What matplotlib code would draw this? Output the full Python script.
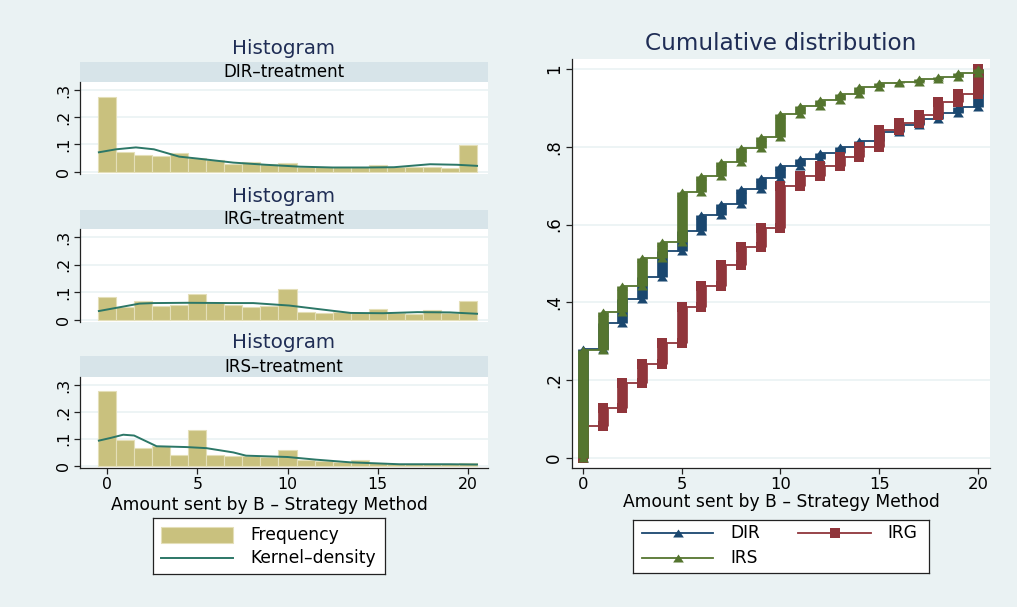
import numpy as np
import matplotlib
matplotlib.use("Agg")
import matplotlib.pyplot as plt
from matplotlib.patches import Rectangle
from matplotlib.path import Path

# ---------------- data ----------------
amounts = np.arange(21)

hist_dir = [0.276, 0.071, 0.061, 0.058, 0.067, 0.050, 0.043, 0.028, 0.037, 0.027, 0.031,
            0.018, 0.018, 0.015, 0.015, 0.025, 0.018, 0.018, 0.018, 0.013, 0.098]
hist_irg = [0.082, 0.045, 0.066, 0.049, 0.054, 0.092, 0.061, 0.054, 0.045, 0.049, 0.110,
            0.029, 0.023, 0.026, 0.023, 0.038, 0.023, 0.020, 0.033, 0.023, 0.066]
hist_irs = [0.278, 0.096, 0.065, 0.074, 0.038, 0.131, 0.041, 0.035, 0.035, 0.032, 0.057,
            0.019, 0.016, 0.012, 0.019, 0.010, 0.006, 0.006, 0.005, 0.005, 0.010]

kd_dir_x = [-0.45, 0.5, 1.6, 2.6, 4.0, 5.0, 7.0, 8.8, 10.7, 12.5, 14.4, 15.9, 17.9, 19.4, 20.5]
kd_dir_y = [0.071, 0.082, 0.089, 0.082, 0.055, 0.048, 0.033, 0.025, 0.018, 0.015, 0.015, 0.016,
            0.027, 0.025, 0.021]
kd_irg_x = [-0.45, 1.8, 2.6, 4.4, 7.0, 8.1, 10.1, 11.6, 13.5, 15.3, 17.2, 19.0, 20.5]
kd_irg_y = [0.031, 0.058, 0.060, 0.061, 0.060, 0.060, 0.051, 0.039, 0.024, 0.023, 0.027, 0.026, 0.021]
kd_irs_x = [-0.45, 0.2, 0.9, 1.5, 2.75, 4.4, 5.5, 7.0, 7.7, 10.0, 11.6, 13.5, 16.2, 19.0, 20.5]
kd_irs_y = [0.093, 0.103, 0.115, 0.112, 0.072, 0.069, 0.065, 0.049, 0.037, 0.032, 0.022, 0.012,
            0.005, 0.005, 0.004]

cdf_dir = [0.280, 0.348, 0.409, 0.466, 0.533, 0.584, 0.625, 0.653, 0.692, 0.721, 0.751,
           0.769, 0.785, 0.800, 0.816, 0.839, 0.856, 0.872, 0.888, 0.902, 1.0]
cdf_irg = [0.083, 0.128, 0.192, 0.242, 0.296, 0.387, 0.443, 0.496, 0.542, 0.590, 0.699,
           0.726, 0.750, 0.774, 0.800, 0.843, 0.862, 0.882, 0.914, 0.935, 1.0]
cdf_irs = [0.278, 0.376, 0.442, 0.515, 0.556, 0.685, 0.726, 0.762, 0.796, 0.826, 0.884,
           0.905, 0.920, 0.935, 0.953, 0.963, 0.967, 0.974, 0.980, 0.989, 1.0]

panel_titles = ["DIR–treatment", "IRG–treatment", "IRS–treatment"]
series_names = ["DIR", "IRG", "IRS"]
xlabel = "Amount sent by B – Strategy Method"

# ---------------- style ----------------
BG = "#EAF2F3"
STRIP = "#D7E4E9"
TITLE_C = "#1F2D55"
BAR_C = "#C9C17E"
KD_C = "#2C7767"
COLS = {"DIR": "#1A476F", "IRG": "#90353B", "IRS": "#55752F"}
plt.rcParams["font.family"] = ["DejaVu Sans"]

W, H = 1017, 607
fig = plt.figure(figsize=(W / 100, H / 100), dpi=100, facecolor=BG)


def px_axes(l, t, r, b, **kw):
    return fig.add_axes([l / W, 1 - b / H, (r - l) / W, (b - t) / H], **kw)


def ftext(x, y, s, **kw):
    fig.text(x / W, 1 - y / H, s, **kw)


def style_axis(ax, bottom=True):
    for sp in ["top", "right"]:
        ax.spines[sp].set_visible(False)
    ax.spines["left"].set_color("#222222")
    ax.spines["left"].set_linewidth(0.9)
    if bottom:
        ax.spines["bottom"].set_color("#222222")
        ax.spines["bottom"].set_linewidth(0.9)
    else:
        ax.spines["bottom"].set_visible(False)
        ax.tick_params(axis="x", bottom=False, labelbottom=False)
    ax.tick_params(axis="both", direction="out", length=4.5, width=0.9, color="#222222", pad=2)
    ax.yaxis.grid(True, color=BG, lw=1.2)
    ax.set_axisbelow(True)


def ylabels_fmt(vals):
    out = []
    for v in vals:
        if v == 0:
            out.append("0")
        elif v == 1:
            out.append("1")
        else:
            out.append(("%g" % v).lstrip("0"))
    return out


# ---------------- left: histograms ----------------
hists = [hist_dir, hist_irg, hist_irs]
kdx = [kd_dir_x, kd_irg_x, kd_irs_x]
kdy = [kd_dir_y, kd_irg_y, kd_irs_y]
panel_px = [(62, 82, 174, 48), (210, 229, 322, 197), (356, 377, 468, 343)]
yt = [0, 0.1, 0.2, 0.3]
for i in range(3):
    st, pt, pb, ty = panel_px[i]
    ftext(284, ty, "Histogram", ha="center", va="center", fontsize=14.3, color=TITLE_C)
    sax = px_axes(80, st, 488, pt)
    sax.set_facecolor(STRIP)
    sax.set_xticks([]); sax.set_yticks([])
    for sp in sax.spines.values():
        sp.set_visible(False)
    sax.text(0.5, 0.5, panel_titles[i], ha="center", va="center", fontsize=12,
             transform=sax.transAxes)
    ax = px_axes(80, pt, 488, pb)
    ax.set_facecolor("white")
    style_axis(ax, bottom=(i == 2))
    ax.bar(amounts, hists[i], width=1.0, color=BAR_C, edgecolor="#E4DFB8", linewidth=0.8, zorder=2)
    ax.plot(kdx[i], kdy[i], color=KD_C, lw=1.4, zorder=3)
    ax.set_xlim(-1.496, 21.108)
    ax.set_ylim(-0.009, 0.33)
    ax.set_yticks(yt)
    ax.set_yticklabels(ylabels_fmt(yt), rotation=90, va="center", fontsize=11.5)
    if i == 2:
        ax.set_xticks([0, 5, 10, 15, 20])
        ax.set_xticklabels(["0", "5", "10", "15", "20"], fontsize=11.3)

ftext(269, 505, xlabel, ha="center", va="center", fontsize=12.3)

# left legend
lax = px_axes(153, 518, 385, 574)
lax.set_xlim(153, 385); lax.set_ylim(574, 518)
lax.set_facecolor("white")
lax.set_xticks([]); lax.set_yticks([])
for sp in lax.spines.values():
    sp.set_color("#222222"); sp.set_linewidth(0.9)
lax.add_patch(Rectangle((161, 527), 72, 16, facecolor=BAR_C, edgecolor="#E4DFB8", lw=0.8))
lax.plot([161, 233], [558, 558], color=KD_C, lw=1.4)
lax.text(250, 535, "Frequency", va="center", ha="left", fontsize=12.3)
lax.text(250, 558, "Kernel–density", va="center", ha="left", fontsize=12.3)

# ---------------- right: cumulative distribution ----------------
tri = Path([(-1, -0.75), (1, -0.75), (0, 0.75), (-1, -0.75)],
           [Path.MOVETO, Path.LINETO, Path.LINETO, Path.CLOSEPOLY])
MS = 7.7
markers = {"DIR": tri, "IRG": "s", "IRS": tri}

ftext(781, 43, "Cumulative distribution", ha="center", va="center", fontsize=16.7, color=TITLE_C)
cax = px_axes(572, 59, 990, 468)
cax.set_facecolor("white")
style_axis(cax, bottom=True)
cax.set_xlim(-0.557, 20.608)
cax.set_ylim(-0.0257, 1.0257)
yt2 = [0, 0.2, 0.4, 0.6, 0.8, 1.0]
cax.set_yticks(yt2)
cax.set_yticklabels(ylabels_fmt(yt2), rotation=90, va="center", fontsize=12)
cax.set_xticks([0, 5, 10, 15, 20])
cax.set_xticklabels(["0", "5", "10", "15", "20"], fontsize=11.8)

for z, (name, F) in enumerate(zip(series_names, [cdf_dir, cdf_irg, cdf_irs])):
    F = np.asarray(F)
    lo = np.concatenate([[0.0], F[:-1]])
    c = COLS[name]
    zo = 3 + z
    cax.hlines(F[:-1], amounts[:-1], amounts[1:], color=c, lw=1.3, zorder=zo)
    cax.vlines(amounts, lo, F, color=c, lw=MS, capstyle="butt", zorder=zo)
    cax.plot(amounts, F, ls="none", marker=markers[name], ms=MS, mew=0, color=c, zorder=zo)
    cax.plot(amounts, lo, ls="none", marker=markers[name], ms=MS, mew=0, color=c, zorder=zo)

ftext(781, 502, xlabel, ha="center", va="center", fontsize=12.3)

# right legend
rax = px_axes(633, 520, 929, 573)
rax.set_xlim(633, 929); rax.set_ylim(573, 520)
rax.set_facecolor("white")
rax.set_xticks([]); rax.set_yticks([])
for sp in rax.spines.values():
    sp.set_color("#222222"); sp.set_linewidth(0.9)
leg_pos = {"DIR": (642, 713, 533, 730), "IRG": (798, 871, 533, 887), "IRS": (642, 713, 558, 730)}
for name in series_names:
    x0, x1, y, tx = leg_pos[name]
    c = COLS[name]
    rax.plot([x0, x1], [y, y], color=c, lw=1.3)
    rax.plot([(x0 + x1) / 2], [y], marker=markers[name], ms=MS, mew=0, color=c, ls="none")
    rax.text(tx, y, name, va="center", ha="left", fontsize=12.3)

fig.savefig("out.png", dpi=100, facecolor=BG)
